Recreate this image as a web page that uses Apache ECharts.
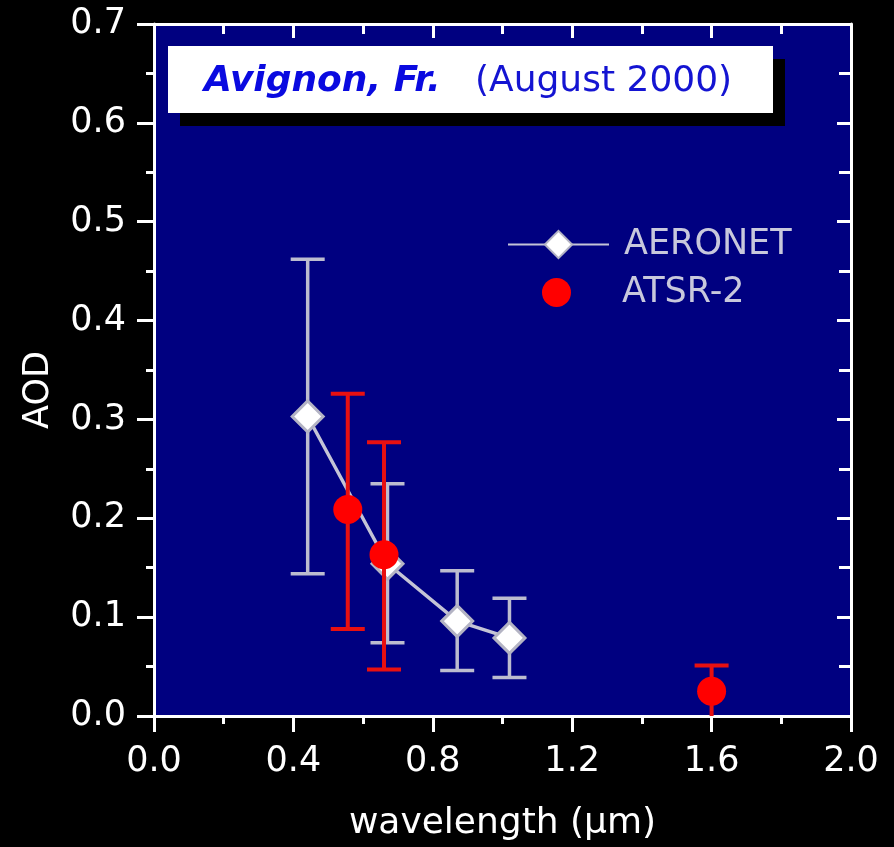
<!DOCTYPE html>
<html>
<head>
<meta charset="utf-8">
<script src="https://cdn.jsdelivr.net/npm/echarts@6/dist/echarts.min.js"></script>
<style>
  html, body { margin: 0; padding: 0; background: #000; }
  #chart { width: 894px; height: 847px; }
</style>
</head>
<body>
<div id="chart"></div>
<script>
// AERONET sun-photometer AOD (mean with range)
var aeronetWavelength = [0.441, 0.670, 0.870, 1.020];
var aeronetAod        = [0.303, 0.154, 0.096, 0.079];
var aeronetLow        = [0.144, 0.074, 0.046, 0.039];
var aeronetHigh       = [0.462, 0.235, 0.147, 0.119];

// ATSR-2 retrieved AOD (with uncertainty)
var atsrWavelength = [0.556, 0.660, 1.600];
var atsrAod        = [0.209, 0.163, 0.025];
var atsrLow        = [0.088, 0.047, 0.000];
var atsrHigh       = [0.326, 0.277, 0.051];

var xTicks = [0.0, 0.4, 0.8, 1.2, 1.6, 2.0];
var yTicks = [0.0, 0.1, 0.2, 0.3, 0.4, 0.5, 0.6, 0.7];

var titlePlace = 'Avignon, Fr.';
var titleDate = '(August 2000)';
var seriesNames = ['AERONET', 'ATSR-2'];

var FONT = '"DejaVu Sans", Verdana, sans-serif';
var NAVY = '#000080';
var GREY = '#bcbccf';
var RED = '#ff0000';
var RED_BAR = '#e81010';

function pairs(xs, ys) { return xs.map(function (x, i) { return [x, ys[i]]; }); }
function triples(xs, lo, hi) { return xs.map(function (x, i) { return [x, lo[i], hi[i]]; }); }

var yMin = yTicks[0];

function errorBars(color, width, capHalf) {
  return function (params, api) {
    var x = api.value(0);
    var lo = api.value(1), hi = api.value(2);
    var pLo = api.coord([x, lo]);
    var pHi = api.coord([x, hi]);
    var style = { stroke: color, lineWidth: width };
    var children = [
      { type: 'line', shape: { x1: pLo[0], y1: pLo[1], x2: pHi[0], y2: pHi[1] }, style: style },
      { type: 'line', shape: { x1: pHi[0] - capHalf, y1: pHi[1], x2: pHi[0] + capHalf, y2: pHi[1] }, style: style }
    ];
    if (lo > yMin) {
      children.push({ type: 'line', shape: { x1: pLo[0] - capHalf, y1: pLo[1], x2: pLo[0] + capHalf, y2: pLo[1] }, style: style });
    }
    return { type: 'group', children: children };
  };
}

var chart = echarts.init(document.getElementById('chart'), null, { renderer: 'canvas' });

var axisCommon = {
  type: 'value',
  splitLine: { show: false },
  axisLine: { show: true, onZero: false, lineStyle: { color: '#ffffff', width: 3 } }
};

chart.setOption({
  backgroundColor: '#000000',
  animation: false,
  grid: {
    left: 154, right: 43, top: 24, bottom: 125,
    show: true, backgroundColor: NAVY, borderWidth: 0
  },
  legend: [
    {
      data: [seriesNames[0]],
      left: 507, top: 227, padding: 0,
      itemWidth: 101, itemHeight: 34,
      textStyle: { color: '#c8c8dc', fontSize: 35, fontFamily: FONT, padding: [0, 0, 0, 10] },
      selectedMode: false
    },
    {
      data: [seriesNames[1]],
      left: 542, top: 275, padding: 0,
      itemWidth: 29, itemHeight: 29,
      textStyle: { color: '#c8c8dc', fontSize: 35, fontFamily: FONT, padding: [0, 0, 0, 46] },
      selectedMode: false
    }
  ],
  xAxis: [
    Object.assign({}, axisCommon, {
      min: xTicks[0], max: xTicks[xTicks.length - 1], interval: xTicks[1] - xTicks[0],
      position: 'bottom',
      name: 'wavelength (\u03bcm)', nameLocation: 'middle', nameGap: 90,
      nameTextStyle: { color: '#ffffff', fontSize: 36, fontFamily: FONT },
      axisTick: { show: true, inside: false, length: 16, lineStyle: { color: '#ffffff', width: 3 } },
      minorTick: { show: true, splitNumber: 2, length: 8, lineStyle: { color: '#ffffff', width: 3 } },
      axisLabel: { color: '#ffffff', fontSize: 35, fontFamily: FONT, margin: 28,
        formatter: function (v) { return v.toFixed(1); } }
    }),
    Object.assign({}, axisCommon, {
      min: xTicks[0], max: xTicks[xTicks.length - 1], interval: xTicks[1] - xTicks[0],
      position: 'top',
      axisTick: { show: true, inside: true, length: 14, lineStyle: { color: '#ffffff', width: 3 } },
      minorTick: { show: true, splitNumber: 2, length: 10, lineStyle: { color: '#ffffff', width: 3 } },
      axisLabel: { show: false }
    })
  ],
  yAxis: [
    Object.assign({}, axisCommon, {
      min: yTicks[0], max: yTicks[yTicks.length - 1], interval: yTicks[1] - yTicks[0],
      position: 'left',
      name: 'AOD', nameLocation: 'middle', nameGap: 98,
      nameTextStyle: { color: '#ffffff', fontSize: 35, fontFamily: FONT, padding: [0, 40, 0, 0] },
      axisTick: { show: true, inside: false, length: 17, lineStyle: { color: '#ffffff', width: 3 } },
      minorTick: { show: true, splitNumber: 2, length: 8, lineStyle: { color: '#ffffff', width: 3 } },
      axisLabel: { color: '#ffffff', fontSize: 35, fontFamily: FONT, margin: 28,
        formatter: function (v) { return v.toFixed(1); } }
    }),
    Object.assign({}, axisCommon, {
      min: yTicks[0], max: yTicks[yTicks.length - 1], interval: yTicks[1] - yTicks[0],
      position: 'right',
      axisTick: { show: true, inside: true, length: 14, lineStyle: { color: '#ffffff', width: 3 } },
      minorTick: { show: true, splitNumber: 2, length: 12, lineStyle: { color: '#ffffff', width: 3 } },
      axisLabel: { show: false }
    })
  ],
  graphic: [
    {
      type: 'group', z: 100,
      children: [
        { type: 'rect', shape: { x: 180, y: 59, width: 605, height: 67 }, style: { fill: '#000000' } },
        { type: 'rect', shape: { x: 168, y: 46, width: 605, height: 67 }, style: { fill: '#ffffff' } },
        { type: 'text', x: 204, y: 82, style: { text: titlePlace, fill: '#0a0ae0',
            font: 'italic bold 36px ' + FONT, textVerticalAlign: 'middle' } },
        { type: 'text', x: 475, y: 82, style: { text: titleDate, fill: '#1414d2',
            font: '36px ' + FONT, textVerticalAlign: 'middle' } }
      ]
    }
  ],
  series: [
    {
      type: 'custom', name: 'AERONET range', z: 2,
      renderItem: errorBars(GREY, 3.5, 17),
      data: triples(aeronetWavelength, aeronetLow, aeronetHigh),
      encode: { x: 0, y: [1, 2] }
    },
    {
      type: 'line', name: seriesNames[0], z: 3,
      data: pairs(aeronetWavelength, aeronetAod),
      symbol: 'diamond', symbolSize: 31,
      lineStyle: { color: '#c4c4d6', width: 3.5 },
      itemStyle: { color: '#ffffff', borderColor: '#b4b4c4', borderWidth: 3 }
    },
    {
      type: 'custom', name: 'ATSR-2 range', z: 4,
      renderItem: errorBars(RED_BAR, 4, 17),
      data: triples(atsrWavelength, atsrLow, atsrHigh),
      encode: { x: 0, y: [1, 2] }
    },
    {
      type: 'scatter', name: seriesNames[1], z: 5,
      data: pairs(atsrWavelength, atsrAod),
      symbol: 'circle', symbolSize: 29,
      itemStyle: { color: RED, opacity: 1 }
    }
  ]
});
</script>
</body>
</html>
